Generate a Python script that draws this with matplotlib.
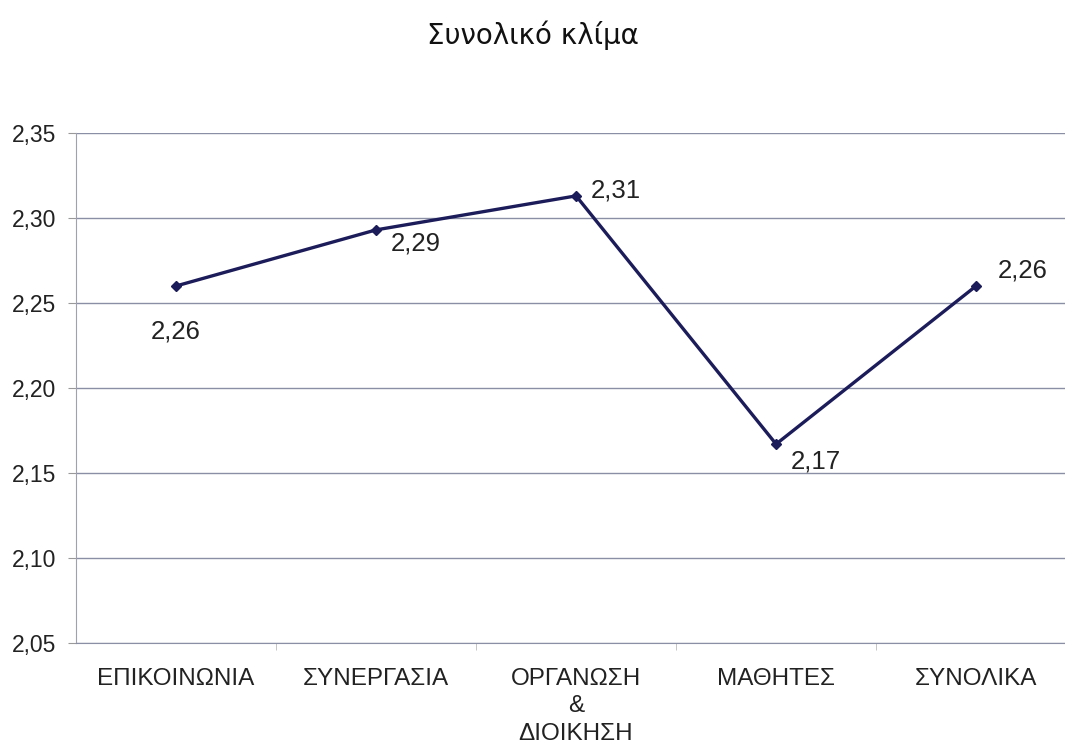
import matplotlib
matplotlib.use("Agg")
import matplotlib.pyplot as plt

# Data
categories = ["ΕΠΙΚΟΙΝΩΝΙΑ", "ΣΥΝΕΡΓΑΣΙΑ", "ΟΡΓΑΝΩΣΗ\n&\nΔΙΟΙΚΗΣΗ", "ΜΑΘΗΤΕΣ", "ΣΥΝΟΛΙΚΑ"]
values = [2.26, 2.293, 2.313, 2.167, 2.26]
point_labels = ["2,26", "2,29", "2,31", "2,17", "2,26"]
y_ticks = [2.05, 2.10, 2.15, 2.20, 2.25, 2.30, 2.35]

# label offsets in pixels relative to each point
label_offsets = [(0, -46), (40, -14), (40, 5), (40, -17), (47, 15)]

line_color = "#1c1c5a"
grid_color = "#8a8fa6"

fig = plt.figure(figsize=(10.65, 7.45), dpi=100)
ax = fig.add_axes([0.0714, 0.1369, 0.9390, 0.6846])

x = list(range(len(categories)))
ax.plot(x, values, color=line_color, linewidth=2.4, marker="D", markersize=5.5,
        markerfacecolor=line_color, markeredgecolor=line_color, zorder=3)

for xi, v, lab, off in zip(x, values, point_labels, label_offsets):
    ax.annotate(lab, (xi, v), xytext=off, textcoords="offset pixels",
                ha="center", va="center", fontsize=18.5,
                family="Liberation Sans", color="#222222")

ax.set_xlim(-0.5, len(categories) - 0.5)
ax.set_ylim(2.05, 2.35)
ax.set_yticks(y_ticks)
ax.set_yticklabels([f"{t:.2f}".replace(".", ",") for t in y_ticks],
                   fontsize=16.5, family="Liberation Sans", color="#222222")
ax.set_xticks(x)
ax.set_xticklabels(categories, fontsize=17.5, family="Liberation Sans",
                   color="#222222", linespacing=1.32)
ax.tick_params(axis="x", length=0, pad=18)
ax.set_xticks([i + 0.5 for i in x[:-1]], minor=True)
ax.tick_params(axis="x", which="minor", length=5, color="#bbbbbb", direction="out")
ax.tick_params(axis="y", length=6, color="#999999", pad=8)

ax.grid(axis="y", color=grid_color, linewidth=1.0)
ax.set_axisbelow(True)
for side in ["top", "right"]:
    ax.spines[side].set_visible(False)
ax.spines["left"].set_color("#a0a0b0")
ax.spines["bottom"].set_color(grid_color)

fig.text(0.5, 0.953, "Συνολικό κλίμα", ha="center", va="center",
         fontsize=20, family="DejaVu Sans", color="#111111")

fig.savefig("out.png", dpi=100, facecolor="white")
